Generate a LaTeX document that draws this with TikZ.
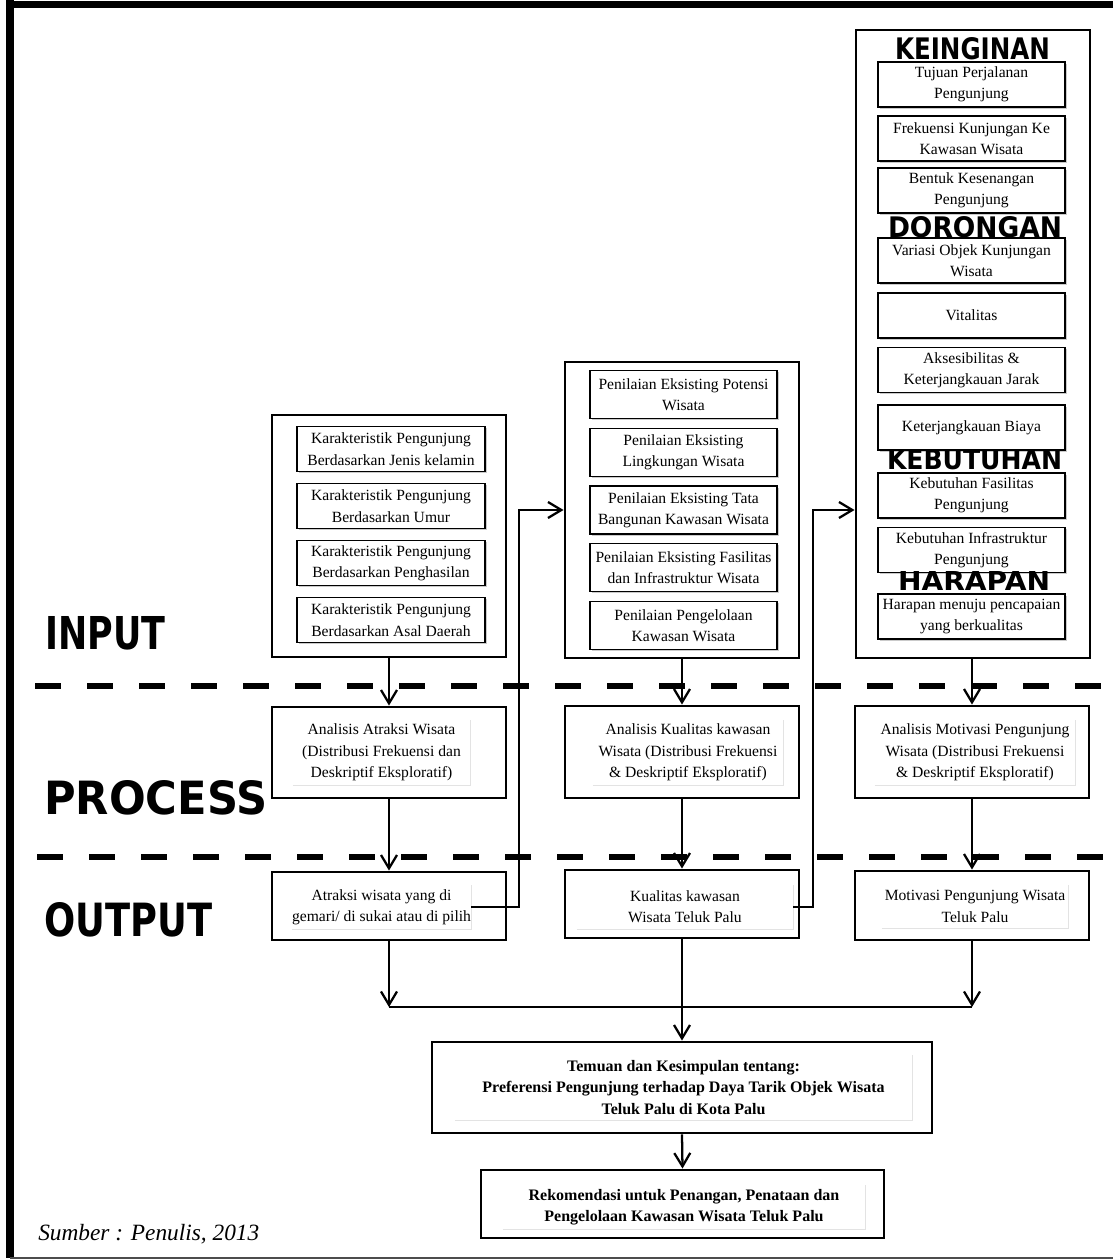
\documentclass[tikz,border=0pt]{standalone}
\usepackage{fontspec}
\usepackage{graphicx}
\setmainfont{Liberation Serif}
\newfontfamily\headfont{DejaVu Sans}
\usetikzlibrary{arrows.meta,shadows}
\newdimen\px \px=0.75pt
\newcommand\headtxt[3]{\resizebox{#1\px}{#2\px}{\headfont\bfseries #3}}
\tikzset{
  bigbox/.style={draw,line width=2.2pt,inner sep=0pt,minimum width=234\px},
  itembox/.style={draw,line width=.8pt,fill=white,align=center,inner sep=0pt,
    minimum width=188\px,minimum height=45\px,font=\fontsize{11.7}{16}\selectfont,
    drop shadow={shadow xshift=1.2pt,shadow yshift=-1.2pt,fill=gray!70,opacity=.6}},
  stagebox/.style={draw,line width=2.2pt,inner sep=0pt,minimum width=234\px},
  txtarea/.style={align=center,inner sep=0pt,font=\fontsize{11.7}{16}\selectfont},
  heading/.style={inner sep=0pt},
  arr/.style={line width=1.7pt,-{Straight Barb[length=10pt,width=12pt]}},
  link/.style={line width=1.7pt},
  phase/.style={line width=3.8pt,dash pattern=on 19.5pt off 19.5pt}
}
\begin{document}
\begin{tikzpicture}[x=0.75pt,y=-0.75pt]
\useasboundingbox (0,0) rectangle (1113,1260);
% frame
\draw[line width=5.5pt] (6,4.5) -- (1113,4.5);
\draw[line width=6pt] (10,0) -- (10,1258);
\draw[gray!60!black,line width=1.5pt] (10,1258) -- (1113,1258);
% phase separators and labels
\draw[phase] (35,686) -- (1110,686);
\draw[phase] (37,857) -- (1110,857);
\node[heading,anchor=west] (lblin) at (45,633.5) {\headtxt{120}{33}{INPUT}};
\node[heading,anchor=west] (lblpr) at (44,798) {\headtxt{223}{34}{PROCESS}};
\node[heading,anchor=west] (lblout) at (44,920) {\headtxt{168}{34}{OUTPUT}};
% input columns
\node[bigbox,minimum height=242\px] (in1) at (389,536) {};
\foreach \t [count=\i] in {{Karakteristik Pengunjung\\Berdasarkan Jenis kelamin},
  {Karakteristik Pengunjung\\Berdasarkan Umur},{Karakteristik Pengunjung\\Berdasarkan Penghasilan},
  {Karakteristik Pengunjung\\Berdasarkan Asal Daerah}}
  \node[itembox] (c1-\i) at (391,{449+57*(\i-1)}) {\t};
\node[bigbox,minimum height=296\px] (in2) at (682,510) {};
\foreach \t [count=\i] in {{Penilaian Eksisting Potensi\\Wisata},{Penilaian Eksisting\\Lingkungan Wisata},
  {Penilaian Eksisting Tata\\Bangunan Kawasan Wisata},{Penilaian Eksisting Fasilitas\\dan Infrastruktur Wisata},
  {Penilaian Pengelolaan\\Kawasan Wisata}}
  \node[itembox,minimum width=187\px,minimum height=48\px] (c2-\i) at (683.5,{394.5+57.75*(\i-1)}) {\t};
\node[bigbox,minimum height=628\px] (in3) at (973,344) {};
\foreach \y/\t [count=\i] in {84.5/{Tujuan Perjalanan\\Pengunjung},138.5/{Frekuensi Kunjungan Ke\\Kawasan Wisata},
  190.5/{Bentuk Kesenangan\\Pengunjung},260.5/{Variasi Objek Kunjungan\\Wisata},315.5/{Vitalitas},
  370/{Aksesibilitas \&\\Keterjangkauan Jarak},427.5/{Keterjangkauan Biaya},
  495.5/{Kebutuhan Fasilitas\\Pengunjung},550/{Kebutuhan Infrastruktur\\Pengunjung},
  616.5/{Harapan menuju pencapaian\\yang berkualitas}}
  \node[itembox,minimum width=187\px] (c3-\i) at (971.5,\y) {\t};
\node[heading] (hkein) at (972.5,49) {\headtxt{155}{22}{KEINGINAN}};
\node[heading] (hdor) at (975,227) {\headtxt{174}{21}{DORONGAN}};
\node[heading] (hkeb) at (974.5,459.5) {\headtxt{175}{20}{KEBUTUHAN}};
\node[heading] (hhar) at (974,581) {\headtxt{152}{19}{HARAPAN}};
% process
\node[stagebox,minimum height=91\px] (p1) at (389,752.5) {};
\node[stagebox,minimum height=92\px] (p2) at (682,752) {};
\node[stagebox,minimum height=92\px] (p3) at (972,752) {};
\node[txtarea,minimum width=177\px,minimum height=65\px] (p1t) at (381.5,752.5) {Analisis Atraksi Wisata\\(Distribusi Frekuensi dan\\Deskriptif Eksploratif)};
\node[txtarea,minimum width=190\px,minimum height=65\px] (p2t) at (688,752.5) {Analisis Kualitas kawasan\\Wisata (Distribusi Frekuensi\\\& Deskriptif Eksploratif)};
\node[txtarea,minimum width=200\px,minimum height=65\px] (p3t) at (975,752.5) {Analisis Motivasi Pengunjung\\Wisata (Distribusi Frekuensi\\\& Deskriptif Eksploratif)};
% output
\node[stagebox,minimum height=68\px] (o1) at (389,906) {};
\node[stagebox,minimum height=68\px] (o2) at (682,904) {};
\node[stagebox,minimum height=69\px] (o3) at (972,905.5) {};
\node[txtarea,minimum width=173\px,minimum height=44\px] (o1t) at (381.5,907) {Atraksi wisata yang di\\gemari/ di sukai atau di pilih};
\node[txtarea,minimum width=216\px,minimum height=44\px] (o2t) at (685,907) {Kualitas kawasan\\Wisata Teluk Palu};
\node[txtarea,minimum width=186\px,minimum height=43\px] (o3t) at (975,906.5) {Motivasi Pengunjung Wisata\\Teluk Palu};
% findings
\node[stagebox,minimum width=500\px,minimum height=91\px] (f1) at (682,1087.5) {};
\node[stagebox,minimum width=403\px,minimum height=68\px] (f2) at (682.5,1204) {};
\node[txtarea,font=\fontsize{12}{16.1}\selectfont\bfseries,minimum width=457\px,minimum height=65\px] (f1t) at (683.5,1087.5) {Temuan dan Kesimpulan tentang:\\Preferensi Pengunjung terhadap Daya Tarik Objek Wisata\\Teluk Palu di Kota Palu};
\node[txtarea,font=\fontsize{12}{16.1}\selectfont\bfseries,minimum width=362\px,minimum height=44\px] (f2t) at (684,1207) {Rekomendasi untuk Penangan, Penataan dan\\Pengelolaan Kawasan Wisata Teluk Palu};
\foreach \n in {p1t,p2t,p3t,o1t,o2t,o3t,f1t,f2t}
  \draw[gray!22,line width=1pt] (\n.south west) -| (\n.north east);
% connectors
\draw[arr] (in1.south) -- (p1.north);
\draw[arr] (in2.south) -- (p2.north);
\draw[arr] (in3.south -| p3.north) -- (p3.north);
\draw[arr] (p1.south) -- (o1.north);
\draw[arr] (p2.south) -- (o2.north);
\draw[arr] (p3.south) -- (o3.north);
\draw[arr] (o1t.east) -| (519,510) -- (in2.west);
\draw[arr] (o2t.east) -| (813,510) -- (in3.west |- in2.west);
\coordinate (m) at (682,1007);
\draw[arr] (o1.south) -- (o1.south |- m);
\draw[arr] (o3.south) -- (o3.south |- m);
\draw[link] (o1.south |- m) -- (o3.south |- m);
\draw[arr] (o2.south) -- (f1.north);
\draw[arr] (f1.south) -- (f2.north);
\node[anchor=base west,inner sep=0pt,font=\fontsize{17.5}{20}\selectfont\itshape] (src) at (38,1240) {Sumber : Penulis, 2013};
\end{tikzpicture}
\end{document}
